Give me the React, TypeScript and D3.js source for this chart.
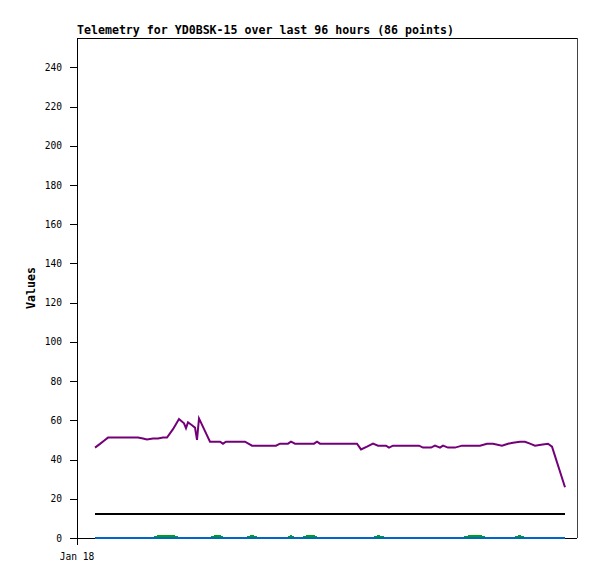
import React from "react";
import * as d3 from "d3";

const title = "Telemetry for YD0BSK-15 over last 96 hours (86 points)";
const yLabel = "Values";
const xTickLabel = "Jan 18";
const yTicks = [0, 20, 40, 60, 80, 100, 120, 140, 160, 180, 200, 220, 240];

// hours since Jan 18 00:00
const hours = [
  3.6, 4.6, 5.4, 6.2, 7.4, 8.4, 9.6, 10.8, 12.2, 13.2, 14.0, 15.2, 16.2, 17.2, 18.0, 19.2,
  20.4, 21.4, 21.8, 22.2, 23.0, 23.6, 24.0, 24.4, 25.6, 26.6, 27.6, 28.6, 29.2, 29.8, 31.0,
  32.2, 33.6, 35.0, 36.2, 37.4, 38.6, 39.8, 40.6, 42.2, 42.8, 43.6, 44.8, 46.2, 47.4, 48.0,
  48.6, 50.0, 51.6, 53.2, 54.6, 56.0, 56.8, 58.0, 59.2, 60.2, 61.8, 62.4, 63.2, 64.6, 66.2,
  67.6, 68.4, 69.2, 70.8, 71.6, 72.6, 73.2, 74.2, 75.6, 77.0, 78.6, 80.6, 82.0, 83.2, 85.0,
  86.2, 87.2, 88.6, 89.6, 90.6, 91.6, 92.8, 94.2, 95.0, 97.6,
];

const purple = [
  46.1, 48, 49.6, 51.2, 51.2, 51.2, 51.2, 51.2, 51.2, 50.7, 50.2, 50.7, 50.7, 51.2, 51.2, 55.5,
  60.7, 58.5, 56, 59, 57.5, 56.3, 50, 61, 54.5, 49.1, 49.1, 49.1, 48.1, 49.1, 49.1,
  49.1, 49.1, 47.1, 47.1, 47.1, 47.1, 47.1, 48.1, 48.1, 49.1, 48.1, 48.1, 48.1, 48.1, 49.1,
  48.1, 48.1, 48.1, 48.1, 48.1, 48.1, 45.2, 46.6, 48.1, 47.1, 47.1, 46.1, 47.1, 47.1, 47.1,
  47.1, 47.1, 46.1, 46.1, 47.1, 46.1, 47.1, 46.1, 46.1, 47.1, 47.1, 47.1, 48.1, 48.1, 47.1,
  48.1, 48.6, 49.1, 49.1, 48.1, 47.1, 47.6, 48.1, 46.6, 25.9,
];

const green = [
  0, 0, 0, 0, 0, 0, 0, 0, 0, 0, 0, 0, 1, 1, 1, 1,
  0, 0, 0, 0, 0, 0, 0, 0, 0, 0, 1, 1, 0, 0, 0,
  0, 0, 1, 0, 0, 0, 0, 0, 0, 1, 0, 0, 1, 1, 0,
  0, 0, 0, 0, 0, 0, 0, 0, 0, 1, 0, 0, 0, 0, 0,
  0, 0, 0, 0, 0, 0, 0, 0, 0, 0, 1, 1, 0, 0, 0,
  0, 0, 1, 0, 0, 0, 0, 0, 0, 0,
];

const blackValue = 12;
const blueValue = 0;

export default function App() {
  const W = 597, H = 579;
  const left = 77, right = 577, top = 38, bottom = 538;
  const x = d3.scaleLinear().domain([0, 100]).range([left, right]);
  const y = d3.scaleLinear().domain([0, 255]).range([bottom, top]);

  const line = d3
    .line<[number, number]>()
    .x((d) => x(d[0]))
    .y((d) => y(d[1]));

  const purplePts = hours.map((h, i) => [h, purple[i]] as [number, number]);
  const greenPts = hours.map((h, i) => [h, green[i]] as [number, number]);
  const blackPts = hours.map((h) => [h, blackValue] as [number, number]);
  const bluePts = hours.map((h) => [h, blueValue] as [number, number]);

  const mono = "'DejaVu Sans Mono', monospace";

  return (
    <svg
      width={W}
      height={H}
      style={{ position: "absolute", left: 0, top: 0, background: "#fff" }}
    >
      <rect x={0} y={0} width={W} height={H} fill="#fff" />
      <text x={left} y={34} fontFamily={mono} fontWeight="bold" fontSize={11.6} fill="#000">
        {title}
      </text>
      {/* frame */}
      <line x1={left} x2={right} y1={top + 0.5} y2={top + 0.5} stroke="#000" strokeWidth={1} />
      <line x1={right + 0.5} x2={right + 0.5} y1={top} y2={bottom} stroke="#444" strokeWidth={1} />
      <line x1={left} x2={right} y1={bottom + 0.5} y2={bottom + 0.5} stroke="#000" strokeWidth={1} />
      <line x1={left + 0.5} x2={left + 0.5} y1={top} y2={bottom + 7} stroke="#000" strokeWidth={1} />
      {yTicks.map((t) => (
        <g key={t}>
          <line x1={left - 7} x2={left} y1={Math.round(y(t)) + 0.5} y2={Math.round(y(t)) + 0.5} stroke="#000" />
          <text
            x={left - 15}
            y={y(t) + 3.5}
            textAnchor="end"
            fontFamily={mono}
            fontSize={9.6}
            fill="#000"
          >
            {t}
          </text>
        </g>
      ))}
      <text x={x(0)} y={560} textAnchor="middle" fontFamily={mono} fontSize={9.6} fill="#000">
        {xTickLabel}
      </text>
      <text
        transform={`translate(35,${(top + bottom) / 2}) rotate(-90)`}
        textAnchor="middle"
        fontFamily={mono}
        fontWeight="bold"
        fontSize={11.6}
        fill="#000"
      >
        {yLabel}
      </text>
      <path d={line(purplePts) || ""} fill="none" stroke="#730078" strokeWidth={2} />
      <path d={line(blackPts) || ""} fill="none" stroke="#000" strokeWidth={2} shapeRendering="crispEdges" />
      <path d={line(greenPts) || ""} fill="none" stroke="#00a010" strokeWidth={2} shapeRendering="crispEdges" />
      <path d={line(bluePts) || ""} fill="none" stroke="#0066cc" strokeWidth={2.5} shapeRendering="crispEdges" />
    </svg>
  );
}
